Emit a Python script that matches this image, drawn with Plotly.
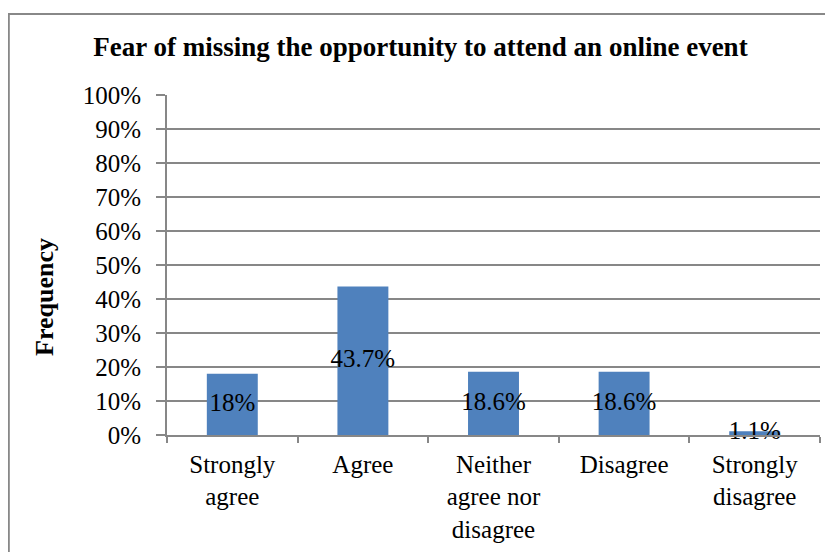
import plotly.graph_objects as go

categories = ["Strongly<br>agree", "Agree", "Neither<br>agree nor<br>disagree", "Disagree", "Strongly<br>disagree"]
values = [18.0, 43.7, 18.6, 18.6, 1.1]
labels = ["18%", "43.7%", "18.6%", "18.6%", "1.1%"]
tick_vals = list(range(0, 101, 10))
tick_text = [f"{v}%" for v in tick_vals]

FONT = "Liberation Serif, Times New Roman, serif"
GRID = "#878787"

fig = go.Figure()
fig.add_trace(go.Bar(
    x=categories, y=values, marker=dict(color="#4F81BD", line=dict(width=0)),
    width=0.39, hoverinfo="skip",
))
fig.add_trace(go.Scatter(
    x=categories, y=[v / 2 for v in values], mode="text", text=labels,
    textfont=dict(family=FONT, size=25, color="black"), textposition="middle center",
    hoverinfo="skip", cliponaxis=False,
))

fig.update_layout(
    width=825, height=544,
    margin=dict(l=159, r=13, t=87, b=117),
    paper_bgcolor="white", plot_bgcolor="white",
    showlegend=False,
    font=dict(family=FONT, size=25, color="black"),
    title=dict(text="<b>Fear of missing the opportunity to attend an online event</b>",
               x=0.5, xanchor="center", y=1 - 39 / 544, yanchor="middle",
               font=dict(family=FONT, size=27, color="black")),
    xaxis=dict(
        showgrid=False, showline=True, linecolor=GRID, linewidth=1.8,
        ticks="outside", ticklen=6, tickcolor=GRID, tickwidth=1.5, tickson="boundaries",
        ticklabelstandoff=6, automargin=False,
        tickfont=dict(family=FONT, size=25, color="black"),
        range=[-0.5, 4.5],
    ),
    yaxis=dict(
        range=[0, 100], tickvals=tick_vals, ticktext=tick_text,
        showgrid=True, gridcolor=GRID, gridwidth=1.8,
        showline=True, linecolor=GRID, linewidth=1.8,
        ticks="outside", ticklen=9, tickcolor=GRID, tickwidth=1.5,
        ticklabelstandoff=10, automargin=False,
        tickfont=dict(family=FONT, size=25, color="black"),
        zeroline=False,
    ),
    annotations=[dict(text="<b>Frequency</b>", xref="paper", yref="paper",
                      x=(36 - 159) / 653, y=(427 - 289) / 340, textangle=-90,
                      xanchor="center", yanchor="middle", showarrow=False,
                      font=dict(family=FONT, size=26, color="black"))],
    shapes=[dict(type="rect", xref="paper", yref="paper",
                 x0=(0.8 - 159) / 653, x1=1.05, y0=-0.5, y1=1 + (87 - 6) / 340,
                 line=dict(color="#888888", width=2), fillcolor="rgba(0,0,0,0)", layer="below")],
)

fig.write_html("out.html")
